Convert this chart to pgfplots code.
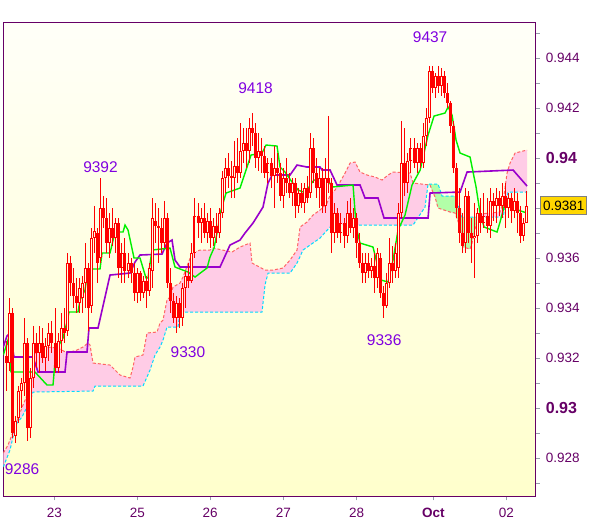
\documentclass[border=0pt]{standalone}
\usepackage{fontspec}
\setmainfont{Liberation Sans}
\usepackage{pgfplots}
\pgfplotsset{compat=1.18}
\usepackage{pgfplotstable}
\usepgfplotslibrary{fillbetween}

\definecolor{axiscol}{RGB}{102,0,102}
\definecolor{tickcol}{RGB}{150,160,170}
\definecolor{bgtop}{RGB}{255,255,248}
\definecolor{bgbot}{RGB}{255,255,204}
\definecolor{candle}{RGB}{255,0,0}
\definecolor{hollow}{RGB}{255,255,225}
\definecolor{tenkan}{RGB}{0,240,0}
\definecolor{kijun}{RGB}{153,0,204}
\definecolor{spanAcol}{RGB}{255,100,100}
\definecolor{spanBcol}{RGB}{0,220,255}
\definecolor{cloudpink}{RGB}{255,204,230}
\definecolor{cloudgreen}{RGB}{178,255,168}
\definecolor{lblcol}{RGB}{128,0,224}
\definecolor{boxcol}{RGB}{255,215,0}

\pgfplotstableread{
x o h l c
1 0.9321 0.9327 0.9307 0.9318
2 0.9318 0.9344 0.9315 0.9338
3 0.9338 0.9340 0.9288 0.9290
4 0.9289 0.9297 0.9286 0.9295
5 0.9296 0.9309 0.9294 0.9307
6 0.9307 0.9312 0.9300 0.9310
7 0.9310 0.9336 0.9305 0.9326
8 0.9326 0.9328 0.9287 0.9292
9 0.9292 0.9316 0.9288 0.9312
10 0.9312 0.9333 0.9308 0.9326
11 0.9326 0.9330 0.9316 0.9322
12 0.9322 0.9333 0.9314 0.9326
13 0.9326 0.9332 0.9318 0.9320
14 0.9320 0.9328 0.9315 0.9325
15 0.9325 0.9334 0.9319 0.9330
16 0.9330 0.9335 0.9322 0.9326
17 0.9326 0.9340 0.9314 0.9316
18 0.9316 0.9330 0.9314 0.9327
19 0.9327 0.9338 0.9322 0.9332
20 0.9332 0.9340 0.9326 0.9330
21 0.9331 0.9362 0.9329 0.9358
22 0.9358 0.9361 0.9345 0.9350
23 0.9350 0.9356 0.9340 0.9345
24 0.9345 0.9352 0.9338 0.9342
25 0.9342 0.9352 0.9338 0.9348
26 0.9344 0.9353 0.9338 0.9350
27 0.9350 0.9366 0.9340 0.9356
28 0.9356 0.9358 0.9331 0.9340
29 0.9341 0.9372 0.9338 0.9368
30 0.9368 0.9381 0.9362 0.9371
31 0.9370 0.9372 0.9350 0.9358
32 0.9360 0.9392 0.9358 0.9380
33 0.9380 0.9385 0.9372 0.9376
34 0.9376 0.9384 0.9362 0.9366
35 0.9366 0.9378 0.9360 0.9372
36 0.9372 0.9380 0.9365 0.9368
37 0.9368 0.9376 0.9362 0.9374
38 0.9374 0.9376 0.9352 0.9356
39 0.9356 0.9366 0.9350 0.9362
40 0.9362 0.9368 0.9350 0.9355
41 0.9355 0.9362 0.9352 0.9358
42 0.9358 0.9360 0.9350 0.9354
43 0.9354 0.9358 0.9343 0.9346
44 0.9346 0.9356 0.9342 0.9354
45 0.9354 0.9355 0.9343 0.9346
46 0.9346 0.9353 0.9344 0.9351
47 0.9351 0.9353 0.9340 0.9347
48 0.9347 0.9358 0.9345 0.9356
49 0.9355 0.9384 0.9348 0.9376
50 0.9375 0.9382 0.9366 0.9373
51 0.9373 0.9380 0.9358 0.9372
52 0.9372 0.9376 0.9362 0.9366
53 0.9366 0.9383 0.9364 0.9376
54 0.9376 0.9378 0.9348 0.9350
55 0.9350 0.9356 0.9338 0.9343
56 0.9343 0.9346 0.9334 0.9336
57 0.9336 0.9345 0.9330 0.9342
58 0.9342 0.9344 0.9332 0.9336
59 0.9336 0.9350 0.9333 0.9348
60 0.9348 0.9355 0.9340 0.9353
61 0.9353 0.9358 0.9348 0.9351
62 0.9351 0.9366 0.9350 0.9362
63 0.9362 0.9384 0.9360 0.9377
64 0.9377 0.9382 0.9368 0.9374
65 0.9374 0.9380 0.9366 0.9376
66 0.9376 0.9382 0.9368 0.9370
67 0.9370 0.9378 0.9366 0.9375
68 0.9375 0.9380 0.9364 0.9368
69 0.9368 0.9376 0.9365 0.9373
70 0.9373 0.9378 0.9366 0.9370
71 0.9370 0.9380 0.9368 0.9378
72 0.9378 0.9395 0.9376 0.9392
73 0.9392 0.9400 0.9386 0.9396
74 0.9396 0.9402 0.9388 0.9393
75 0.9393 0.9399 0.9384 0.9392
76 0.9392 0.9407 0.9384 0.9397
77 0.9397 0.9408 0.9390 0.9394
78 0.9394 0.9414 0.9392 0.9403
79 0.9403 0.9412 0.9398 0.9406
80 0.9406 0.9412 0.9396 0.9403
81 0.9403 0.9416 0.9398 0.9412
82 0.9412 0.9418 0.9405 0.9410
83 0.9410 0.9414 0.9396 0.9400
84 0.9400 0.9410 0.9395 0.9403
85 0.9403 0.9408 0.9394 0.9401
86 0.9401 0.9405 0.9392 0.9394
87 0.9394 0.9400 0.9390 0.9398
88 0.9398 0.9400 0.9388 0.9393
89 0.9393 0.9405 0.9380 0.9396
90 0.9396 0.9402 0.9390 0.9394
91 0.9394 0.9398 0.9383 0.9385
92 0.9385 0.9396 0.9380 0.9392
93 0.9392 0.9400 0.9386 0.9390
94 0.9390 0.9394 0.9384 0.9386
95 0.9386 0.9392 0.9381 0.9390
96 0.9390 0.9392 0.9376 0.9381
97 0.9381 0.9388 0.9378 0.9386
98 0.9386 0.9390 0.9380 0.9382
99 0.9382 0.9390 0.9378 0.9388
100 0.9388 0.9393 0.9382 0.9384
101 0.9386 0.9410 0.9384 0.9404
102 0.9404 0.9408 0.9390 0.9394
103 0.9394 0.9400 0.9384 0.9388
104 0.9388 0.9396 0.9380 0.9392
105 0.9392 0.9396 0.9378 0.9381
106 0.9381 0.9400 0.9378 0.9392
107 0.9392 0.9417 0.9386 0.9390
108 0.9390 0.9392 0.9362 0.9370
109 0.9370 0.9382 0.9366 0.9378
110 0.9378 0.9380 0.9368 0.9370
111 0.9370 0.9378 0.9366 0.9374
112 0.9374 0.9376 0.9364 0.9369
113 0.9369 0.9383 0.9366 0.9378
114 0.9378 0.9384 0.9370 0.9372
115 0.9372 0.9380 0.9368 0.9376
116 0.9376 0.9378 0.9360 0.9366
117 0.9366 0.9370 0.9356 0.9358
118 0.9358 0.9362 0.9350 0.9354
119 0.9354 0.9362 0.9350 0.9358
120 0.9358 0.9362 0.9352 0.9355
121 0.9355 0.9360 0.9352 0.9357
122 0.9357 0.9362 0.9346 0.9352
123 0.9352 0.9364 0.9348 0.9362
124 0.9360 0.9362 0.9344 0.9346
125 0.9346 0.9349 0.9336 0.9341
126 0.9341 0.9354 0.9340 0.9350
127 0.9350 0.9368 0.9348 0.9358
128 0.9358 0.9365 0.9350 0.9355
129 0.9355 0.9366 0.9352 0.9362
130 0.9356 0.9382 0.9352 0.9378
131 0.9378 0.9415 0.9376 0.9398
132 0.9398 0.9412 0.9385 0.9390
133 0.9390 0.9402 0.9386 0.9399
134 0.9399 0.9408 0.9394 0.9404
135 0.9404 0.9408 0.9396 0.9398
136 0.9398 0.9406 0.9394 0.9404
137 0.9404 0.9406 0.9396 0.9398
138 0.9398 0.9414 0.9396 0.9409
139 0.9409 0.9420 0.9405 0.9416
140 0.9416 0.9437 0.9414 0.9435
141 0.9435 0.9437 0.9426 0.9428
142 0.9428 0.9434 0.9424 0.9433
143 0.9433 0.9437 0.9426 0.9429
144 0.9429 0.9436 0.9425 0.9433
145 0.9433 0.9435 0.9424 0.9426
146 0.9426 0.9430 0.9420 0.9422
147 0.9422 0.9423 0.9410 0.9413
148 0.9413 0.9415 0.9394 0.9396
149 0.9396 0.9398 0.9376 0.9380
150 0.9380 0.9388 0.9366 0.9370
151 0.9370 0.9378 0.9362 0.9365
152 0.9366 0.9388 0.9362 0.9385
153 0.9385 0.9387 0.9366 0.9370
154 0.9370 0.9376 0.9358 0.9368
155 0.9368 0.9382 0.9352 0.9369
156 0.9369 0.9380 0.9366 0.9378
157 0.9378 0.9384 0.9370 0.9374
158 0.9374 0.9386 0.9372 0.9377
159 0.9377 0.9384 0.9370 0.9373
160 0.9373 0.9388 0.9368 0.9383
161 0.9383 0.9386 0.9375 0.9381
162 0.9381 0.9388 0.9374 0.9384
163 0.9384 0.9387 0.9377 0.9381
164 0.9381 0.9390 0.9376 0.9385
165 0.9385 0.9390 0.9372 0.9380
166 0.9380 0.9386 0.9376 0.9384
167 0.9384 0.9386 0.9374 0.9379
168 0.9379 0.9388 0.9376 0.9383
169 0.9383 0.9386 0.9370 0.9378
170 0.9378 0.9381 0.9366 0.9369
171 0.9369 0.9376 0.9367 0.9374
172 0.9374 0.9387 0.9374 0.9381
}\candles

\pgfplotstableread{
x y
0 0.93213
1.55 0.93273
2.53 0.93145
10.42 0.93145
14.37 0.93093
16.34 0.93093
17.32 0.93233
19.63 0.93281
20.94 0.93345
21.6 0.93385
24.56 0.93385
25.21 0.93433
26.86 0.93473
27.84 0.93557
31.79 0.93557
32.45 0.93621
35.08 0.93621
36.72 0.93705
39.35 0.93705
40.01 0.93733
41 0.93713
42.97 0.93601
44.94 0.93601
46.91 0.93521
47.57 0.93521
48.88 0.93633
54.8 0.93641
56.44 0.93565
60.72 0.93545
63.02 0.93525
66.96 0.93561
67.95 0.93605
69.26 0.93641
70.25 0.93701
71.57 0.93793
73.21 0.93861
77.81 0.93881
79.78 0.93953
81.43 0.94013
85.04 0.94021
86.36 0.94053
89.98 0.94049
90.96 0.93965
92.61 0.93945
94.91 0.93905
96.88 0.93873
99.51 0.93861
100.82 0.93893
102.14 0.93913
106.74 0.93913
108.05 0.93885
114.96 0.93893
116 0.93725
117.26 0.93661
121.53 0.93645
124.16 0.93513
126.46 0.93505
128.11 0.93593
129.75 0.93713
132.05 0.93773
134.35 0.93893
137.02 0.93953
139.62 0.94093
141.59 0.94169
145.2 0.94181
146.2 0.94205
147.5 0.94173
148.82 0.94073
150.14 0.94021
153.42 0.94005
155.4 0.93885
156.71 0.93781
158.03 0.93725
162.3 0.93705
163.28 0.93745
164.93 0.93821
168.21 0.93821
169.2 0.93793
172.16 0.93781
}\tenkantab

\pgfplotstableread{
x y
0 0.93245
1.2 0.93289
2.2 0.93301
3.52 0.93205
9.76 0.93205
11.41 0.93145
20.28 0.93145
20.94 0.93225
27.51 0.93225
28.17 0.93321
31.13 0.93321
35.08 0.93533
41.65 0.93541
43.29 0.93585
44.94 0.93613
52.17 0.93617
53.81 0.93661
55.46 0.93673
56.44 0.93593
58.09 0.93565
71.23 0.93565
74.52 0.93653
77.81 0.93673
79.45 0.93701
82.08 0.93741
83.73 0.93773
85.37 0.93805
87.01 0.93901
88.33 0.93933
94.25 0.93933
96.55 0.93973
99.84 0.93965
104.11 0.93965
104.77 0.93953
107.4 0.93953
109.7 0.93893
117.26 0.93893
118.9 0.93841
123.18 0.93841
125.15 0.93761
139.62 0.93761
140.27 0.93861
150.14 0.93865
152.44 0.93945
167.56 0.93953
172.16 0.93889
}\kijuntab

\pgfplotstableread{
x y
0 0.92821
1.55 0.92853
3.19 0.92905
4.83 0.92961
6.48 0.93013
8.12 0.93061
9.43 0.93113
9.76 0.93181
10.42 0.93221
12.06 0.93233
14.37 0.93245
17.65 0.93241
19.3 0.93233
20.94 0.93221
24.23 0.93233
26.2 0.93245
27.84 0.93261
28.5 0.93253
29.49 0.93181
35.08 0.93173
36.72 0.93153
38.36 0.93133
41.65 0.93121
42.64 0.93165
43.29 0.93205
45.92 0.93213
47.24 0.93301
50.53 0.93305
51.51 0.93341
52.5 0.93353
53.81 0.93433
54.8 0.93445
55.79 0.93485
58.09 0.93501
59.07 0.93525
62.03 0.93621
64.66 0.93633
67.95 0.93633
68.94 0.93641
75.18 0.93625
77.82 0.93645
81.1 0.93661
81.76 0.93581
86.03 0.93553
88.66 0.93553
91.95 0.93561
94.25 0.93593
96.55 0.93633
97.54 0.93725
99.84 0.93745
101.81 0.93773
104.11 0.93793
106.42 0.93821
107.4 0.93853
109.05 0.93873
110.69 0.93905
112.34 0.93941
113.98 0.93981
115.62 0.93985
117.26 0.93945
119.57 0.93933
122.2 0.93925
124.5 0.93913
126.47 0.93933
128.11 0.93945
133.7 0.93941
134.68 0.93901
140.27 0.93893
140.93 0.93873
141.92 0.93845
142.9 0.93801
146.85 0.93785
148.49 0.93781
150.14 0.93725
150.79 0.93673
151.12 0.93645
153.42 0.93637
154.08 0.93661
155.72 0.93753
156.71 0.93777
163.28 0.93785
164.27 0.93825
165.59 0.93941
166.57 0.93981
168.21 0.94021
172.16 0.94033
}\spanAtab

\pgfplotstableread{
x y
0 0.92765
2.2 0.92833
3.19 0.92885
4.5 0.92941
6.15 0.92965
7.79 0.93005
8.78 0.93025
9.76 0.93065
29.49 0.93069
30.14 0.93089
45.92 0.93089
48.23 0.93153
49.87 0.93213
51.51 0.93245
52.5 0.93273
53.81 0.93325
57.43 0.93325
58.09 0.93385
85.04 0.93385
86.03 0.93493
87.01 0.93541
94.25 0.93541
96.55 0.93581
98.52 0.93633
104.11 0.93681
107.4 0.93725
109.05 0.93733
134.68 0.93733
138.63 0.93805
139.62 0.93897
142.9 0.93897
144.22 0.93849
148.49 0.93849
150.79 0.93765
164.27 0.93765
165.92 0.93865
172.16 0.93865
}\spanBtab

\begin{document}
\begin{tikzpicture}[x=1pt,y=1pt]
\path (0,0) rectangle (600,519);
\begin{axis}[
  at={(3.3pt,22.7pt)}, anchor=south west,
  scale only axis, width=532.4pt, height=474pt,
  xmin=0, xmax=175, ymin=0.92648, ymax=0.94544,
  axis line style={draw=axiscol, line width=1pt},
  axis background/.style={shade, top color=bgtop, bottom color=bgbot},
  scaled y ticks=false, scaled x ticks=false,
  xtick={16.77,44.05,67.95,92.05,116.17,141.35,165.4},
  xticklabels={23,25,26,27,28,\textbf{Oct},02},
  ytick={0.928,0.93,0.932,0.934,0.936,0.938,0.94,0.942,0.944},
  yticklabels={0.928,{\fontsize{16}{16}\selectfont\bfseries 0.93},0.932,0.934,0.936,{},{\fontsize{16}{16}\selectfont\bfseries 0.94},0.942,0.944},
  minor ytick={0.927,0.929,0.931,0.933,0.935,0.937,0.939,0.941,0.943,0.945},
  xtick pos=left, ytick pos=right,
  tick align=outside, major tick length=4pt, minor tick length=4pt,
  every tick/.style={draw=tickcol, line width=1pt},
  minor tick style={draw=tickcol, line width=1pt},
  yticklabel style={anchor=west, inner sep=0pt, xshift=6pt, text=axiscol, font=\fontsize{13.5}{14}\selectfont},
  xticklabel style={anchor=north, inner sep=0pt, yshift=-7.7pt, text=axiscol, font=\fontsize{13.5}{14}\selectfont},
]
% cloud
\addplot[name path=A, draw=none, forget plot] table {\spanAtab};
\addplot[name path=B, draw=none, forget plot] table {\spanBtab};
\addplot[fill=cloudpink, draw=none, forget plot] fill between[of=A and B];
\addplot[fill=cloudgreen, draw=none, forget plot] fill between[of=A and B, soft clip={(axis cs:139.5,0.926) rectangle (axis cs:156.2,0.946)}];
\addplot[draw=spanAcol, line width=1pt, dash pattern=on 3pt off 2pt, forget plot] table {\spanAtab};
\addplot[draw=spanBcol, line width=1pt, dash pattern=on 3pt off 2pt, forget plot] table {\spanBtab};
% tenkan / kijun
\addplot[draw=kijun, line width=1.6pt, forget plot] table {\kijuntab};
\addplot[draw=tenkan, line width=1.4pt, forget plot] table {\tenkantab};
% wicks
\addplot[draw=none, mark=none, forget plot,
  error bars/.cd, y dir=minus, y explicit, error mark=none,
  error bar style={draw=candle, line width=1pt}]
  table[x=x, y=h, y error minus expr={\thisrow{h}-\thisrow{l}}] {\candles};
% bodies
\addplot[draw=none, mark=none, forget plot,
  error bars/.cd, y dir=minus, y explicit, error mark=none,
  error bar style={draw=candle, line width=3pt}]
  table[x=x, y expr={max(\thisrow{o},\thisrow{c})}, y error minus expr={max(abs(\thisrow{o}-\thisrow{c}),0.00004)}] {\candles};
% hollow interiors of rising bars
\addplot[draw=none, mark=none, forget plot,
  error bars/.cd, y dir=minus, y explicit, error mark=none,
  error bar style={draw=hollow, line width=0.9pt}]
  table[x=x, y expr={\thisrow{c}-0.00004}, y error minus expr={max(\thisrow{c}-\thisrow{o}-0.00008,0)}] {\candles};
% annotations
\node[text=lblcol, font=\fontsize{15.5}{16}\selectfont] at (axis cs:6.15,0.92757) {9286};
\node[text=lblcol, font=\fontsize{15.5}{16}\selectfont] at (axis cs:31.95,0.93965) {9392};
\node[text=lblcol, font=\fontsize{15.5}{16}\selectfont] at (axis cs:82.9,0.94281) {9418};
\node[text=lblcol, font=\fontsize{15.5}{16}\selectfont] at (axis cs:60.7,0.93225) {9330};
\node[text=lblcol, font=\fontsize{15.5}{16}\selectfont] at (axis cs:125.2,0.93273) {9336};
\node[text=lblcol, font=\fontsize{15.5}{16}\selectfont] at (axis cs:140.3,0.94485) {9437};
\coordinate (pb) at (axis cs:175,0.9381);
\end{axis}
\node[anchor=west, xshift=4.6pt, fill=boxcol, draw=gray, line width=1pt, inner sep=0pt,
  minimum width=46pt, minimum height=18pt, font=\fontsize{13.5}{14}\selectfont]
  at (pb) {0.9381};
\end{tikzpicture}
\end{document}
